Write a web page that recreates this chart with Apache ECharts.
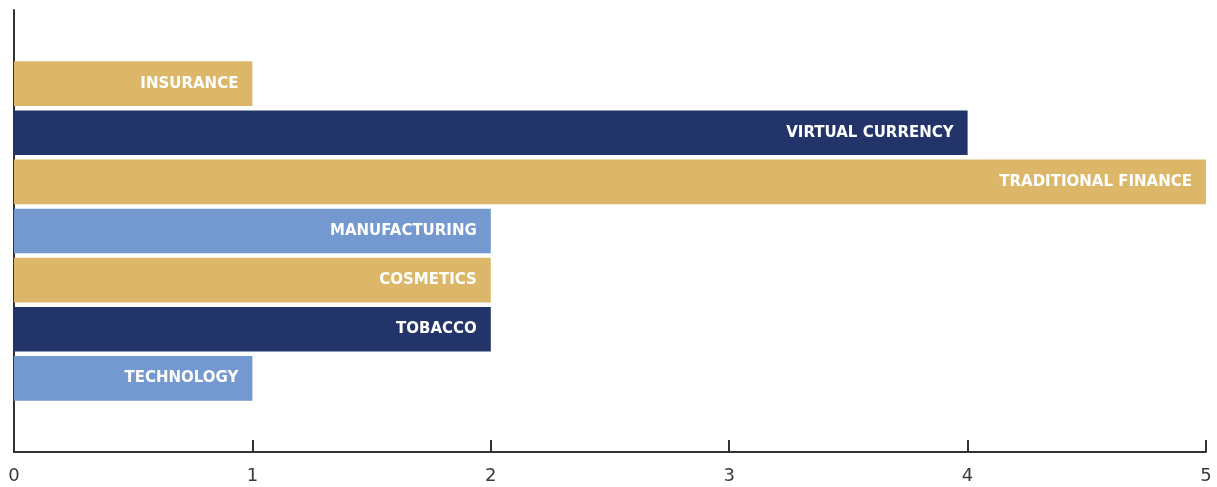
<!DOCTYPE html>
<html>
<head>
<meta charset="utf-8">
<script src="https://cdn.jsdelivr.net/npm/echarts@6/dist/echarts.min.js"></script>
<style>
html,body{margin:0;padding:0;background:#fff;}
#chart{width:1217px;height:487px;}
</style>
</head>
<body>
<div id="chart"></div>
<script>
// Categories listed top to bottom
const categories = ['INSURANCE', 'VIRTUAL CURRENCY', 'TRADITIONAL FINANCE', 'MANUFACTURING', 'COSMETICS', 'TOBACCO', 'TECHNOLOGY'];
const values = [1, 4, 5, 2, 2, 2, 1];
const barColors = ['#DCB76A', '#22346A', '#DCB76A', '#7399D0', '#DCB76A', '#22346A', '#7399D0'];
const xTickLabels = ['0', '1', '2', '3', '4', '5'];

// padding slots at top and bottom of the category axis
const yData = [''].concat(categories, ['']);
const seriesData = [{ value: '-' }].concat(
  values.map((v, i) => ({ value: v, itemStyle: { color: barColors[i] } })),
  [{ value: '-' }]
);

const chart = echarts.init(document.getElementById('chart'), null, { renderer: 'canvas' });
chart.setOption({
  animation: false,
  grid: { left: 14, right: 11, top: 10, bottom: 35, containLabel: false },
  xAxis: {
    type: 'value',
    min: 0, max: 5, interval: 1,
    axisLine: { show: true, lineStyle: { color: '#333', width: 2 } },
    axisTick: { show: true, inside: true, length: 12, lineStyle: { color: '#333', width: 2 } },
    splitLine: { show: false },
    axisLabel: {
      color: '#3a3a3a', fontSize: 18, fontFamily: 'DejaVu Sans', margin: 15,
      formatter: (v) => xTickLabels[Math.round(v)] ?? ''
    }
  },
  yAxis: {
    type: 'category',
    inverse: true,
    data: yData,
    axisLine: { show: true, lineStyle: { color: '#333', width: 2 } },
    axisTick: { show: false },
    axisLabel: { show: false },
    splitLine: { show: false }
  },
  series: [{
    type: 'bar',
    data: seriesData,
    barCategoryGap: '9%',
    label: {
      show: true,
      position: 'insideRight',
      distance: 14,
      color: '#fff',
      fontFamily: 'DejaVu Sans',
      fontWeight: 'bold',
      fontSize: 15,
      formatter: (p) => p.name
    }
  }]
});
</script>
</body>
</html>
